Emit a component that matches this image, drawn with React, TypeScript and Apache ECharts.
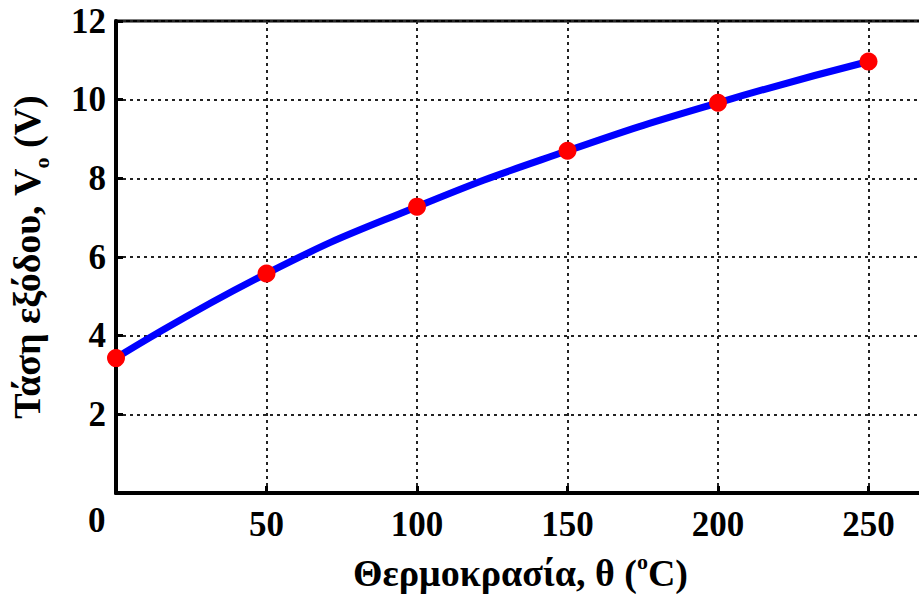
import React, { useEffect, useRef } from "react";
import * as echarts from "echarts";

const temperatures = [0, 50, 100, 150, 200, 250];
const voltages = [3.43, 5.58, 7.28, 8.7, 9.92, 10.97];
const xTicks = [0, 50, 100, 150, 200, 250, 300];
const yTicks = [0, 2, 4, 6, 8, 10, 12];

const FONT = "Liberation Serif";

export default function App() {
  const ref = useRef<HTMLDivElement>(null);
  useEffect(() => {
    if (!ref.current) return;
    const chart = echarts.init(ref.current, undefined, { renderer: "svg" });
    const data = temperatures.map((t, i) => [t, voltages[i]]);
    chart.setOption({
      animation: false,
      backgroundColor: "#ffffff",
      grid: {
        left: 116,
        top: 21,
        width: 903,
        bottom: 101,
        containLabel: false,
        outerBoundsMode: "none",
        show: true,
        borderColor: "#000",
        borderWidth: 3,
        backgroundColor: "transparent",
      },
      xAxis: {
        type: "value",
        min: xTicks[0],
        max: xTicks[xTicks.length - 1],
        interval: 50,
        name: "{m|Θερμοκρασία, θ (}{s|o}{m|C)}",
        nameLocation: "middle",
        nameGap: 57,
        nameTextStyle: {
          padding: [0, 94, 0, 0],
          rich: {
            m: { fontFamily: FONT, fontWeight: "bold", fontSize: 38, color: "#000", lineHeight: 42, verticalAlign: "bottom" },
            s: { fontFamily: FONT, fontWeight: "bold", fontSize: 22, color: "#000", lineHeight: 42, verticalAlign: "top", padding: [0, 0, 14, 0] },
          },
        },
        axisLine: { show: true, onZero: false, lineStyle: { color: "#000", width: 4 } },
        axisTick: { show: true, inside: true, length: 7, lineStyle: { color: "#000", width: 3 } },
        axisLabel: {
          margin: 14,
          fontFamily: FONT,
          fontWeight: "bold",
          fontSize: 35,
          color: "#000",
          formatter: (v: number) => (v === 0 || v === 300 ? "" : String(v)),
        },
        splitLine: { show: true, lineStyle: { color: "#222", width: 2, type: [3, 4] } },
      },
      yAxis: {
        type: "value",
        min: yTicks[0],
        max: yTicks[yTicks.length - 1],
        interval: 2,
        name: "{m|Τάση εξόδου, V}{s|o}{m| (V)}",
        nameLocation: "middle",
        nameRotate: 90,
        nameGap: 64,
        nameTextStyle: {
          rich: {
            m: { fontFamily: FONT, fontWeight: "bold", fontSize: 38, color: "#000", lineHeight: 44, verticalAlign: "top" },
            s: { fontFamily: FONT, fontWeight: "bold", fontSize: 22, color: "#000", lineHeight: 44, verticalAlign: "bottom", padding: [8, 0, 0, 0] },
          },
        },
        axisLine: { show: true, onZero: false, lineStyle: { color: "#000", width: 4 } },
        axisTick: { show: true, inside: true, length: 7, lineStyle: { color: "#000", width: 3 } },
        axisLabel: {
          margin: 10,
          fontFamily: FONT,
          fontWeight: "bold",
          fontSize: 35,
          color: "#000",
          formatter: (v: number) => (v === 0 ? "" : String(v)),
        },
        splitLine: { show: true, lineStyle: { color: "#222", width: 2, type: [3, 4] } },
      },
      graphic: [
        {
          type: "text",
          left: 88,
          top: 503,
          style: { text: "0", fontFamily: FONT, fontWeight: "bold", fontSize: 35, fill: "#000" },
        },
      ],
      series: [
        {
          type: "line",
          data,
          smooth: true,
          clip: false,
          lineStyle: { color: "#0000ff", width: 7 },
          symbol: "circle",
          symbolSize: 18,
          itemStyle: { color: "#ff0000", borderWidth: 0 },
          z: 5,
        },
      ],
    });
    return () => chart.dispose();
  }, []);
  return <div ref={ref} style={{ width: 919, height: 594, position: "absolute", left: 0, top: 0 }} />;
}
